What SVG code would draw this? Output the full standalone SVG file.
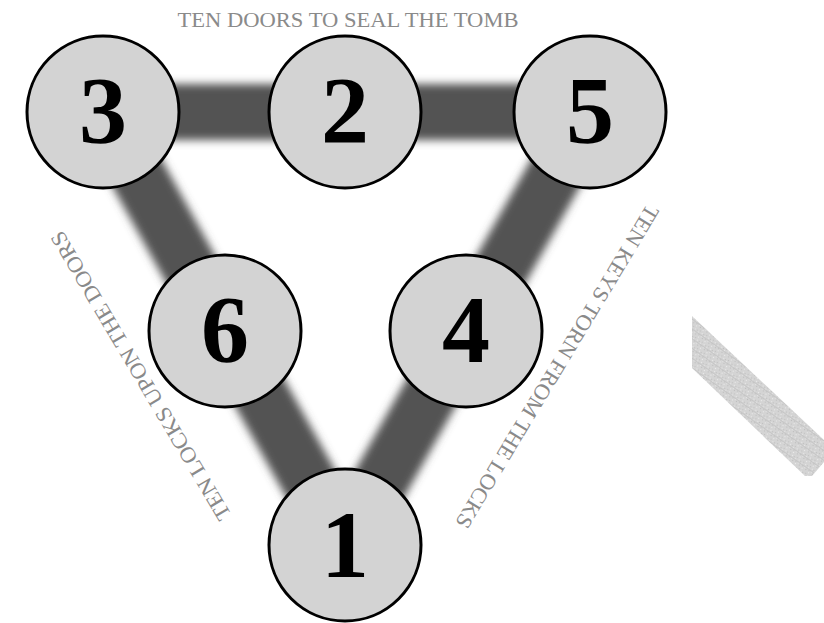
<svg xmlns="http://www.w3.org/2000/svg" width="824" height="623" viewBox="0 0 824 623">
  <defs>
    <filter id="blur" filterUnits="userSpaceOnUse" x="0" y="0" width="824" height="623">
      <feGaussianBlur stdDeviation="4.5"/>
    </filter>
    <pattern id="hatch" width="8" height="8" patternUnits="userSpaceOnUse" patternTransform="rotate(35)">
      <rect width="8" height="8" fill="#d4d4d4"/>
      <rect y="0" width="8" height="1" fill="#c6c6c6"/>
      <rect x="1" y="2" width="1" height="1" fill="#bcbcbc"/>
      <rect x="5" y="3" width="1" height="1" fill="#ececec"/>
      <rect x="3" y="5" width="1" height="1" fill="#c0c0c0"/>
      <rect x="6" y="6" width="1" height="1" fill="#e9e9e9"/>
      <rect x="0" y="6" width="1" height="1" fill="#bfbfbf"/>
      <rect x="7" y="1" width="1" height="1" fill="#e4e4e4"/>
      <rect x="2" y="7" width="1" height="1" fill="#e6e6e6"/>
      <rect x="4" y="1" width="1" height="1" fill="#c3c3c3"/>
    </pattern>
    <style>
      .edge { stroke: #535353; stroke-width: 56; fill: none; filter: url(#blur); }
      .node circle { fill: #d3d3d3; stroke: #000; stroke-width: 3; }
      .node text { font-family: "Liberation Serif", "Times New Roman", serif; font-weight: bold; font-size: 96px; text-anchor: middle; fill: #000; }
      .label { font-family: "Liberation Serif", "Times New Roman", serif; font-size: 22px; fill: #8a8a8a; text-anchor: middle; }
    </style>
  </defs>
  <rect width="824" height="623" fill="#fff"/>
  <polygon points="692,316 824,440 824,462 812,476 805,476 692,368" fill="url(#hatch)"/>
  <g id="connectors">
    <line class="edge" x1="103" y1="112" x2="345" y2="112"/>
    <line class="edge" x1="345" y1="112" x2="590" y2="112"/>
    <line class="edge" x1="103" y1="112" x2="225" y2="331"/>
    <line class="edge" x1="225" y1="331" x2="345" y2="545"/>
    <line class="edge" x1="590" y1="112" x2="466" y2="331"/>
    <line class="edge" x1="466" y1="331" x2="345" y2="545"/>
  </g>
  <g id="node3" class="node"><circle cx="103" cy="112" r="76"/><text x="103" y="143">3</text></g>
  <g id="node2" class="node"><circle cx="345" cy="112" r="76"/><text x="345" y="143">2</text></g>
  <g id="node5" class="node"><circle cx="590" cy="112" r="76"/><text x="590" y="143">5</text></g>
  <g id="node6" class="node"><circle cx="225" cy="331" r="76"/><text x="225" y="362">6</text></g>
  <g id="node4" class="node"><circle cx="466" cy="331" r="76"/><text x="466" y="362">4</text></g>
  <g id="node1" class="node"><circle cx="345" cy="545" r="76"/><text x="345" y="577">1</text></g>
  <text class="label" x="348" y="27" textLength="341" lengthAdjust="spacingAndGlyphs">TEN DOORS TO SEAL THE TOMB</text>
  <text class="label" transform="translate(147,372) rotate(239.3)" x="0" y="0" textLength="332" lengthAdjust="spacingAndGlyphs">TEN LOCKS UPON THE DOORS</text>
  <text class="label" transform="translate(551,363) rotate(121.1)" x="0" y="0" textLength="373" lengthAdjust="spacingAndGlyphs">TEN KEYS TORN FROM THE LOCKS</text>
</svg>
